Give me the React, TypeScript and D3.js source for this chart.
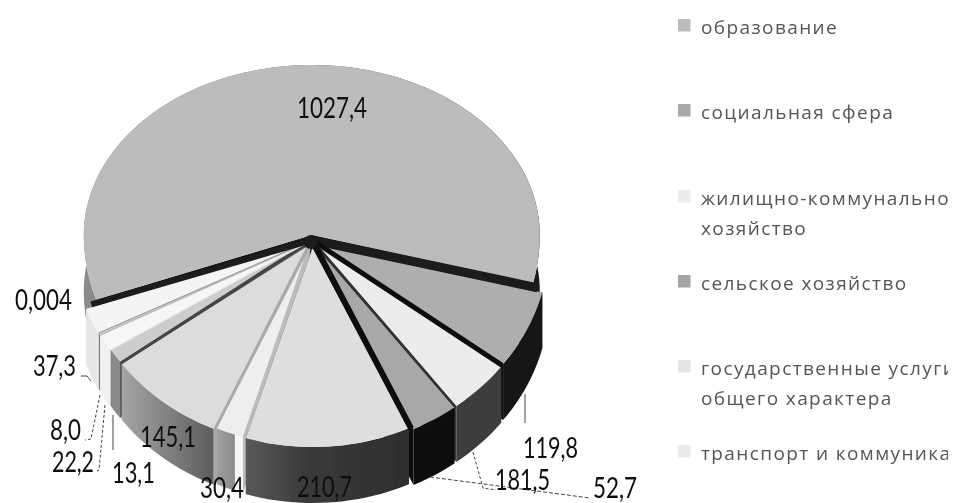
import React from "react";
import * as d3 from "d3";

// ---- data ----
const categories = [
  ["образование"],
  ["социальная сфера"],
  ["жилищно-коммунальное", "хозяйство"],
  ["сельское хозяйство"],
  ["государственные услуги", "общего характера"],
  ["транспорт и коммуникации"],
];
const sliceLabels = ["1027,4", "119,8", "181,5", "52,7", "210,7", "30,4", "145,1", "13,1", "22,2", "8,0", "37,3", "0,004"];
// Angular size of each slice as it is actually drawn in the picture (degrees)
const drawnDegrees = [213, 23, 16, 12, 42, 7, 30, 4, 5, 0.5, 7.5, 0];

// ---- styling ----
const topColors = ["#bcbcbc", "#aeaeae", "#ececec", "#a8a8a8", "#dedede", "#eeeeee", "#dcdcdc", "#cdcdcd", "#f6f6f6", "#d8d8d8", "#f4f4f4", "#cccccc"];
const rimColors = ["url(#rimBig)", "#141414", "#3c3c3c", "#101010", "url(#rim5)", "url(#rim6)", "url(#rim7)", "#8a8a8a", "#f0f0f0", "#777777", "#e6e6e6", "#cccccc"];
const wallColors = ["#1a1a1a", "#111111", "#3a3a3a", "#0e0e0e", "#333333", "#bbbbbb", "#a8a8a8", "#555555", "#cccccc", "#888888", "#dddddd", "#cccccc"];
const explode = [5, 10, 10, 10, 8, 7, 9, 9, 10, 10, 11, 0];
const legendColors = ["#bcbcbc", "#a8a8a8", "#ececec", "#a4a4a4", "#e4e4e4", "#eaeaea"];
const separatorWidths = [9, 5, 2.5, 6, 3, 3, 3, 1.5, 1.5, 1, 6];
const separatorColors = ["#1a1a1a", "#111111", "#333333", "#0e0e0e", "#bbbbbb", "#aaaaaa", "#444444", "#e0e0e0", "#bbbbbb", "#999999", "#1a1a1a"];

const labelPos: [number, number][] = [
  [297, 118], [523, 458], [495, 490], [593, 498], [297, 497], [200, 498],
  [140, 447], [112, 483], [52, 472], [50, 440], [33, 376], [15, 310],
];
const labelWidths = [70, 55, 55, 44, 55, 44, 56, 43, 42, 31, 43, 57];
const leaders: ([number, number][] | null)[] = [
  null,
  [[525, 394], [525, 423]],
  [[473, 452], [483, 488], [496, 490]],
  [[430, 477], [590, 498]],
  null, null, null,
  [[113, 415], [113, 450]],
  [[105, 405], [99, 470], [97, 471]],
  [[100, 395], [91, 439], [85, 440]],
  [[91, 381], [87, 376], [81, 376]],
  null,
];
const leaderDash = [0, 0, 3, 4, 0, 0, 0, 0, 3, 3, 0, 0];
const legendRows = [34, 119, 205, 290, 375, 460];

const rad = Math.PI / 180;
const cx = 312, cy = 240, rx = 228, rTop = 170, rBottom = 199, depth = 56;

function project(theta: number, t = 1): [number, number] {
  const c = Math.cos(theta);
  return [cx + t * rx * Math.sin(theta), cy - t * (c > 0 ? rTop : rBottom) * c];
}

const pie = d3.pie<number>().sort(null).value((d) => d).startAngle(-109 * rad).endAngle(251 * rad);
const line = d3.line();

export default function App() {
  const arcs = pie(drawnDegrees).map((a, i) => {
    const mid = (a.startAngle + a.endAngle) / 2;
    const dx = explode[i] * Math.sin(mid);
    const dy = -explode[i] * Math.cos(mid);
    const steps = Math.max(2, Math.ceil((a.endAngle - a.startAngle) / (2 * rad)));
    const rim = d3.range(steps + 1).map((k) => {
      const p = project(a.startAngle + ((a.endAngle - a.startAngle) * k) / steps);
      return [p[0] + dx, p[1] + dy] as [number, number];
    });
    const apex: [number, number] = [cx + dx, cy + dy];
    const down = (p: [number, number]): [number, number] => [p[0], p[1] + depth];
    const rimWall = [...rim, ...rim.slice().reverse().map(down)];
    const first = rim[0];
    const last = rim[rim.length - 1];
    return {
      i,
      mid,
      first,
      last,
      top: line([apex, ...rim])! + "Z",
      rimWall: line(rimWall)! + "Z",
      startWall: line([apex, first, down(first), down(apex)])! + "Z",
      endWall: line([apex, last, down(last), down(apex)])! + "Z",
    };
  }).filter((a) => drawnDegrees[a.i] > 0);
  const order = arcs.slice().sort((a, b) => d3.descending(Math.cos(a.mid), Math.cos(b.mid)));
  const separators = arcs.map((a, k) => {
    const b = arcs[(k + 1) % arcs.length];
    const end: [number, number] = [(a.last[0] + b.first[0]) / 2, (a.last[1] + b.first[1]) / 2];
    return { d: line([[cx, cy], end])!, w: separatorWidths[k], c: separatorColors[k] };
  });

  return (
    <svg width={972} height={503} style={{ position: "absolute", left: 0, top: 0, background: "#fff" }}>
      <defs>
        <linearGradient id="rimBig" gradientUnits="userSpaceOnUse" x1={84} x2={541} y1={0} y2={0}>
          <stop offset="0" stopColor="#8c8c8c" />
          <stop offset="0.5" stopColor="#555" />
          <stop offset="1" stopColor="#1c1c1c" />
        </linearGradient>
        <linearGradient id="rim5" gradientUnits="userSpaceOnUse" x1={240} x2={405} y1={0} y2={0}>
          <stop offset="0" stopColor="#5c5c5c" />
          <stop offset="0.4" stopColor="#3a3a3a" />
          <stop offset="1" stopColor="#2e2e2e" />
        </linearGradient>
        <linearGradient id="rim6" gradientUnits="userSpaceOnUse" x1={209} x2={240} y1={0} y2={0}>
          <stop offset="0" stopColor="#a8a8a8" />
          <stop offset="0.82" stopColor="#8c8c8c" />
          <stop offset="0.84" stopColor="#f6f6f6" />
          <stop offset="1" stopColor="#f6f6f6" />
        </linearGradient>
        <linearGradient id="rim7" gradientUnits="userSpaceOnUse" x1={118} x2={210} y1={0} y2={0}>
          <stop offset="0" stopColor="#a8a8a8" />
          <stop offset="1" stopColor="#606060" />
        </linearGradient>
        <filter id="soft" x="-5%" y="-5%" width="110%" height="110%">
          <feGaussianBlur stdDeviation="0.55" />
        </filter>
        <clipPath id="legendClip">
          <rect x={660} y={0} width={288} height={503} />
        </clipPath>
      </defs>

      <g filter="url(#soft)">
        {order.map((a) => (
          <g key={a.i}>
            <path d={a.startWall} fill={wallColors[a.i]} />
            <path d={a.endWall} fill={wallColors[a.i]} />
            <path d={a.rimWall} fill={rimColors[a.i]} />
            <path d={a.top} fill={topColors[a.i]} />
          </g>
        ))}
        {separators.map((s, k) => (
          <path key={k} d={s.d} fill="none" stroke={s.c} strokeWidth={s.w} />
        ))}
        <circle cx={cx - 1} cy={cy + 2} r={7} fill="#1a1a1a" />
        {leaders.map((pts, i) =>
          pts ? (
            <path key={i} d={line(pts)!} fill="none" stroke="#444" strokeWidth={1} strokeDasharray={leaderDash[i] ? `${leaderDash[i]} 2` : undefined} />
          ) : null
        )}
        {sliceLabels.map((s, i) => (
          <text key={s} x={labelPos[i][0]} y={labelPos[i][1]} fontFamily="Lato,sans-serif" fontSize={28} fill="#111" textLength={labelWidths[i]} lengthAdjust="spacingAndGlyphs">
            {s}
          </text>
        ))}
      </g>

      <g filter="url(#soft)" clipPath="url(#legendClip)">
        {categories.map((lines, i) => (
          <g key={i}>
            <rect x={678} y={legendRows[i] - 15} width={12.5} height={12.5} fill={legendColors[i]} />
            {lines.map((t, j) => (
              <text key={j} x={701} y={legendRows[i] + j * 30} fontFamily="'Open Sans',sans-serif" fontSize={19} letterSpacing={1.4} fill="#555">
                {t}
              </text>
            ))}
          </g>
        ))}
      </g>
    </svg>
  );
}
